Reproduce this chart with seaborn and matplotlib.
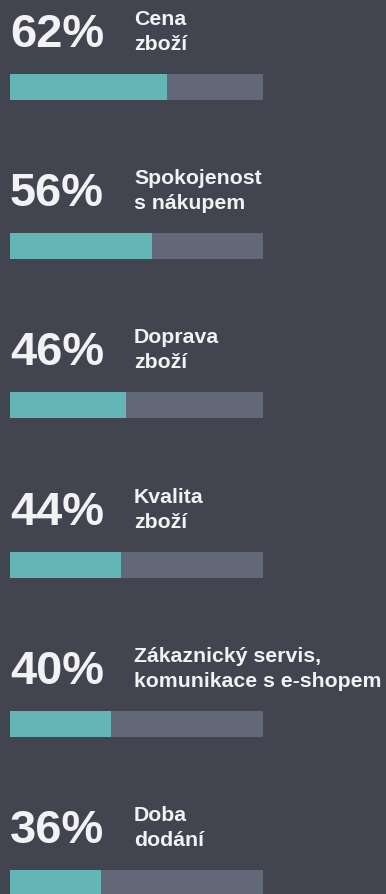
import matplotlib
matplotlib.use("Agg")
import matplotlib.pyplot as plt
import seaborn as sns
import pandas as pd

# Survey results: share of respondents per factor
categories = ["Cena zboží", "Spokojenost s nákupem", "Doprava zboží",
              "Kvalita zboží", "Zákaznický servis, komunikace s e-shopem",
              "Doba dodání"]
label_lines = [["Cena", "zboží"],
               ["Spokojenost", "s nákupem"],
               ["Doprava", "zboží"],
               ["Kvalita", "zboží"],
               ["Zákaznický servis,", "komunikace s e-shopem"],
               ["Doba", "dodání"]]
values = [62, 56, 46, 44, 40, 36]
full_scale = [100] * len(values)

BG = "#42454f"
TEAL = "#64b5b5"
TRACK = "#626877"
TEXT = "#f2f2f4"

W, H, DPI = 386, 895, 100
sns.set_theme(style="white")
plt.rcParams["font.family"] = ["Liberation Sans", "DejaVu Sans"]

fig = plt.figure(figsize=(W / DPI, H / DPI), dpi=DPI, facecolor=BG)
ax = fig.add_axes([0, 0, 1, 1])
ax.set_facecolor(BG)

df = pd.DataFrame({"category": categories, "value": values, "full": full_scale})

pitch = 159.2            # pixels between rows
bar_px = 26              # bar thickness in pixels
width = bar_px / pitch

sns.barplot(data=df, x="full", y="category", color=TRACK, width=width,
            saturation=1, ax=ax, orient="h", linewidth=0, edgecolor=TRACK)
sns.barplot(data=df, x="value", y="category", color=TEAL, width=width,
            saturation=1, ax=ax, orient="h", linewidth=0, edgecolor=TEAL)

# Map data to pixel layout: 0..100 spans x = 10..263 px
px_per_unit = 253 / 100
ax.set_xlim(-10 / px_per_unit, (W - 10) / px_per_unit)
center0 = 88
ax.set_ylim((H - center0) / pitch, -center0 / pitch)
ax.axis("off")

def py(px):
    return px / pitch

label_x = (134 - 10) / px_per_unit
for i, (v, lines) in enumerate(zip(values, label_lines)):
    top = i - width / 2
    ax.text(0, top - py(28), f"{v}%", color=TEXT, fontsize=33.8,
            fontweight="bold", ha="left", va="baseline")
    ax.text(label_x, top - py(50), lines[0], color=TEXT, fontsize=15.3,
            fontweight="bold", ha="left", va="baseline")
    ax.text(label_x, top - py(25), lines[1], color=TEXT, fontsize=15.3,
            fontweight="bold", ha="left", va="baseline")

fig.savefig("out.png", dpi=DPI, facecolor=BG)
